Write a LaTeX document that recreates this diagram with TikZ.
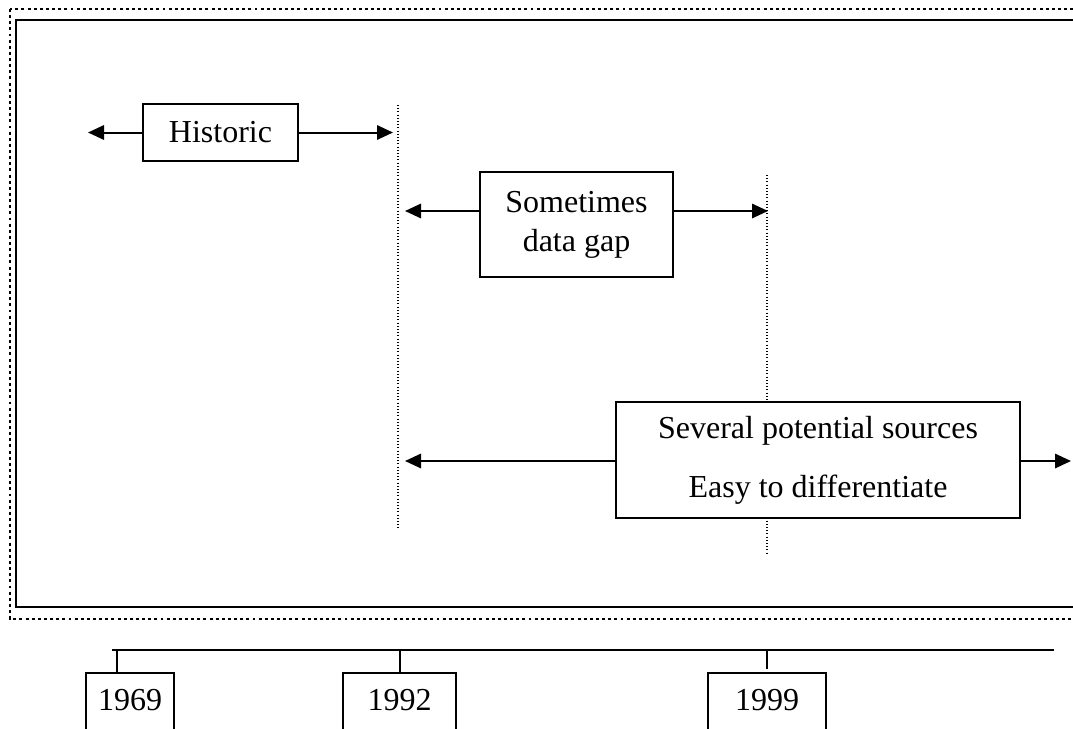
\documentclass[tikz,border=0pt]{standalone}
\usepackage{fontspec}
\setmainfont{Liberation Serif}
\usepackage{tikz}
\usetikzlibrary{
  arrows.meta,
  positioning,
}

\begin{document}
\begin{tikzpicture}[
  x=0.375pt, y=-0.375pt,
  font=\fontsize{12pt}{14.6pt}\selectfont,
  period/.style={draw, line width=0.75pt, fill=white, align=center, inner sep=0pt},
  yearbox/.style={draw, line width=0.75pt, minimum height=30pt, anchor=north, inner sep=0pt},
  span/.style={line width=0.75pt, -{Triangle[length=6pt,width=5.4pt]}},
  divider/.style={dash pattern=on 0.4pt off 0.8pt, line width=0.45pt},
]
  \clip (0,0) rectangle (1073,728);

  % Frames
  \draw[dash pattern=on 1.1pt off 1.2pt, line width=1.1pt] (10,9) rectangle (1100,619);
  \draw[line width=1.1pt] (16,20) rectangle (1100,607);

  % Dividers
  \coordinate (d92top) at (398,105);
  \coordinate (d92bot) at (398,528);
  \coordinate (d99top) at (767,175);
  \coordinate (d99bot) at (767,555);
  \draw[divider] (d92top) -- (d92bot);
  \draw[divider] (d99top) -- (d99bot);

  % Period boxes
  \node[period, minimum width=58pt, minimum height=21.4pt] (hist) at (220.5,132.5) {Historic};
  \node[period, minimum width=72.4pt, minimum height=39.4pt] (gap) at (576.5,224.5) {Sometimes\\data gap};
  \node[period, minimum width=151.5pt, minimum height=43.5pt] (srcs) at (818,460)
    {Several potential sources\\[7.5pt]Easy to differentiate};

  % Arrow ends
  \coordinate (histL) at (88,132.5);
  \coordinate (histR) at (393,132.5);
  \coordinate (gapL) at (405,211);
  \coordinate (gapR) at (768,211);
  \coordinate (srcsL) at (405,461);
  \coordinate (srcsR) at (1071,461);

  \draw[span] (hist.west) -- (histL);
  \draw[span] (hist.east) -- (histR);
  \draw[span] (gap.west |- gapL) -- (gapL);
  \draw[span] (gap.east |- gapR) -- (gapR);
  \draw[span] (srcs.west |- srcsL) -- (srcsL);
  \draw[span] (srcs.east |- srcsR) -- (srcsR);

  % Timeline
  \coordinate (tlL) at (112,650);
  \coordinate (tlR) at (1054,650);
  \draw[line width=0.75pt] (tlL) -- (tlR);

  \node[yearbox, minimum width=33pt] (y69) at (130,672) {};
  \node[yearbox, minimum width=42.4pt] (y92) at (399.5,672) {};
  \node[yearbox, minimum width=44.3pt] (y99) at (767,672) {};
  \node at (130,700) {1969};
  \node at (399.5,700) {1992};
  \node at (767,700) {1999};

  \draw[line width=0.75pt] (117,650) -- (y69.north -| 117,0);
  \draw[line width=0.75pt] (tlL -| y92.north) -- (y92.north);
  \draw[line width=0.75pt] (tlL -| y99.north) -- (767,669);
\end{tikzpicture}
\end{document}
